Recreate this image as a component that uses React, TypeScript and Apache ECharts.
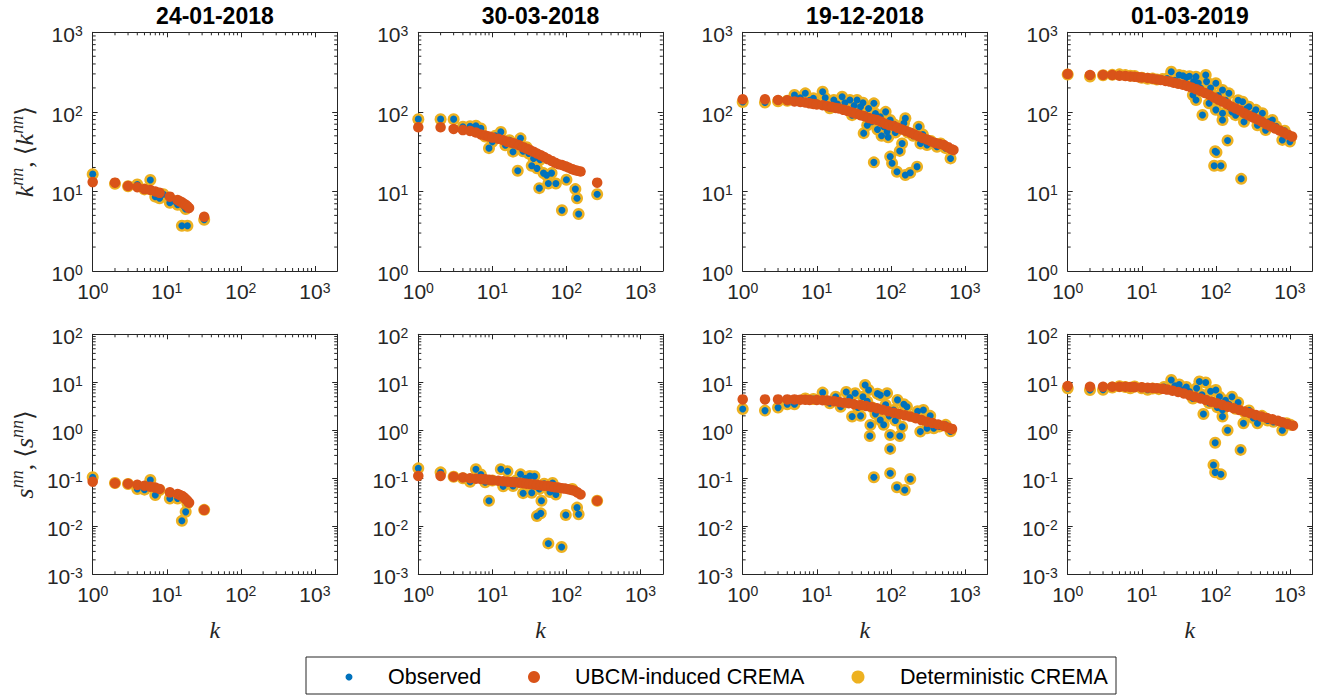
import React, { useEffect, useRef } from 'react';
import * as echarts from 'echarts';

// ---------- titles / labels ----------
const dates = ['24-01-2018', '30-03-2018', '19-12-2018', '01-03-2019'];
const legendNames = ['Observed', 'UBCM-induced CREMA', 'Deterministic CREMA'];

// ---------- data: [k, value] ----------
// 24-01-2018
const knnObsA = [[1,16.5],[2,12.5],[3,11.6],[4,12.2],[5,10.6],[6,13.9],[7,8.6],[8,8.2],[9,9.2],[11,7.2],[13,7.5],[14,6.8],[16,3.7],[17,6.5],[18,6.0],[19,3.7],[32,4.4]];
const knnUbcmA = [[1,13.1],[2,12.9],[3,11.7],[4,11.3],[5,10.7],[6,10.4],[7,10.0],[8,9.6],[11,8.6],[14,7.8],[15,7.5],[16,7.3],[17,7.0],[18,6.8],[19,6.5],[20,6.2],[32,4.8]];
const snnObsA = [[1,0.105],[2,0.08],[3,0.076],[4,0.06],[5,0.058],[6,0.092],[7,0.045],[8,0.057],[11,0.038],[14,0.038],[16,0.013],[18,0.02],[19,0.03],[32,0.022]];
const snnUbcmA = [[1,0.085],[2,0.079],[3,0.077],[4,0.073],[5,0.07],[6,0.067],[7,0.064],[8,0.06],[11,0.051],[14,0.047],[15,0.045],[16,0.043],[17,0.04],[18,0.037],[19,0.034],[20,0.031],[32,0.022]];

// 30-03-2018
const knnObsB = [[1,81],[2,81],[3,81],[4,65],[5,66],[6,67],[7,62],[8,49],[9,35],[10,42],[11,50],[13,56],[15,38],[17,44],[19,31.6],[21,40],[22,18.2],[24,46.5],[26,32],[29,36],[31,30],[34,21],[36,26],[40,19.5],[41,27],[43,11],[44,25],[49,17],[54,16],[57,12.6],[63,17],[72,12.6],[87,5.8],[100,14],[132,10.7],[139,8.2],[146,5.2],[260,9.2]];
const knnUbcmB = [[1,64],[2,64],[3,61],[4,59],[5,57.5],[6,55],[7,52],[8,50.5],[9,49],[10,47.5],[12,46],[14,44],[16,42],[18,41],[20,40],[23,38],[26,36],[29,34.5],[32,33.2],[36,31.5],[40,30],[45,28.5],[50,27],[56,25.5],[63,24.2],[70,23],[78,22],[87,21.5],[96,20.8],[106,20],[117,19.2],[128,18.6],[140,18.2],[155,17.8],[260,12.9]];
const snnObsB = [[1,0.161],[2,0.133],[3,0.108],[4,0.1],[5,0.085],[6,0.155],[7,0.12],[8,0.083],[9,0.034],[10,0.09],[13,0.155],[14,0.068],[16,0.14],[19,0.069],[21,0.09],[24,0.121],[26,0.049],[28,0.1],[32,0.112],[34,0.05],[37,0.11],[38,0.07],[40,0.0164],[43,0.06],[45,0.0186],[46,0.034],[50,0.077],[57,0.0044],[60,0.052],[65,0.08],[72,0.046],[86,0.0037],[98,0.0172],[120,0.06],[139,0.0245],[146,0.0178],[260,0.034]];
const snnUbcmB = [[1,0.112],[2,0.112],[3,0.108],[4,0.104],[5,0.1],[6,0.098],[7,0.097],[8,0.095],[9,0.093],[10,0.091],[12,0.089],[14,0.087],[16,0.085],[18,0.084],[20,0.083],[23,0.081],[26,0.079],[29,0.077],[32,0.076],[36,0.074],[40,0.073],[45,0.071],[50,0.07],[56,0.069],[63,0.067],[70,0.065],[78,0.064],[87,0.062],[96,0.061],[106,0.059],[117,0.057],[128,0.055],[140,0.051],[155,0.046],[260,0.034]];

// 19-12-2018
const knnObsC = [[1,133],[2,131],[3,136],[4,138],[5,163],[6,150],[7,171],[8,140],[9,148],[10,130],[12,179],[13,150],[15,111],[17,141],[19,125],[22,155],[24,130],[28,141],[30,91],[32,120],[35,141],[37,100],[39,116],[42,130],[43,54],[45,91],[48,68],[50,110],[55,75],[59,128],[59,23.2],[62,95],[66,60],[72,87],[75,50],[80,65],[85,100],[89,56.5],[92,48],[98,79],[98,27.4],[104,22.6],[110,70],[115,55],[121,17.7],[125,60],[132,32.3],[142,40],[150,72],[157,83],[157,16.1],[170,55],[183,17.2],[200,50],[226,20.5],[238,65],[251,40],[270,52],[308,38.4],[347,43],[380,40],[420,36.5],[470,40],[550,35],[640,26]];
const knnUbcmC = [[1,144],[2,144],[3,141],[4,140],[5,135],[6,133],[7,131],[8,128],[9,126],[10,124],[12,121],[14,118],[16,115],[18,112],[20,110],[23,106],[26,103],[30,98],[34,95],[39,91],[44,88],[50,84],[57,81],[65,79],[74,75],[84,71],[95,68],[109,66.5],[124,63],[141,60],[160,57.5],[183,54.8],[208,52],[236,49.5],[268,47],[308,45],[350,42.5],[400,40.5],[455,39.5],[520,38.4],[590,36],[650,34],[700,33.2]];
const snnObsC = [[1,2.78],[2,2.57],[3,2.97],[4,3.5],[5,3.5],[7,4.6],[9,4.5],[12,6.1],[15,3.65],[18,5.0],[21,3.1],[25,6.3],[28,4.8],[30,1.93],[33,5.9],[36,3.0],[39,2.0],[42,5.0],[45,8.8],[48,4.0],[50,6.9],[52,0.76],[53,1.29],[56,3.0],[59,0.105],[62,2.2],[66,5.8],[72,5.4],[72,1.64],[80,1.3],[85,3.4],[89,5.9],[95,2.0],[98,0.8],[98,0.41],[98,0.127],[109,2.65],[115,1.6],[121,0.065],[123,4.3],[132,0.76],[142,1.19],[150,3.5],[154,0.057],[165,3.1],[183,0.097],[205,1.93],[230,2.5],[250,0.94],[275,2.65],[308,1.1],[340,2.0],[380,1.1],[450,1.2],[550,1.3],[640,0.95]];
const snnUbcmC = [[1,4.4],[2,4.4],[3,4.4],[4,4.4],[5,4.4],[6,4.35],[7,4.33],[8,4.3],[10,4.27],[12,4.22],[14,4.18],[17,4.05],[20,3.9],[23,3.77],[27,3.65],[32,3.5],[39,3.37],[46,3.2],[55,3.05],[65,2.87],[77,2.68],[92,2.5],[109,2.33],[130,2.18],[155,2.05],[183,1.93],[218,1.78],[260,1.63],[308,1.51],[365,1.42],[435,1.32],[520,1.23],[600,1.13],[670,1.07]];

// 01-03-2019
const knnObsD = [[1,295],[2,278],[3,288],[4,292],[5,296],[6,290],[7,285],[8,283],[10,268],[12,260],[14,262],[16,255],[19,258],[22,262],[25,320],[28,250],[32,290],[36,285],[40,270],[44,280],[49,163],[50,240],[54,277],[54,141],[58,230],[62,200],[66,91.4],[70,180],[73,291],[75,240],[81,128],[85,200],[90,150],[95,21],[98,32],[100,229],[100,106],[102,31],[108,160],[117,21],[123,188],[123,96],[123,79],[135,140],[144,43.6],[150,171],[150,116],[165,100],[185,91],[200,140],[220,14.4],[230,134],[240,75],[260,110],[280,116],[320,95],[347,106],[365,68],[425,96],[470,59],[520,75],[580,79],[650,66],[790,44.4],[850,58],[1000,42.3]];
const knnUbcmD = [[1,299],[2,291],[3,291],[4,291],[5,285],[6,282],[7,279],[8,276],[9,273],[10,271],[12,266],[14,261],[16,256],[18,251],[21,245],[24,240],[27,233],[31,226],[36,219],[41,212],[47,202],[54,193],[62,183],[71,173],[82,163],[94,152],[108,142],[123,134.5],[141,126],[162,117],[185,110],[212,104],[243,96],[278,90],[318,85],[365,80],[418,75],[478,70],[548,66],[628,62],[720,58.5],[825,55],[945,51.5],[1070,48.9]];
const snnObsD = [[1,7.5],[2,6.9],[3,7.0],[4,7.8],[5,8.3],[6,8.0],[7,7.5],[8,8.2],[10,7.5],[12,7.0],[14,7.4],[17,7.2],[20,8.0],[25,11.2],[28,8.5],[32,9.0],[36,7.0],[40,8.0],[44,6.4],[49,4.6],[55,7.5],[60,10.4],[65,5.5],[68,2.19],[73,9.9],[81,3.7],[85,6.5],[93,0.19],[98,0.55],[98,0.133],[100,6.9],[105,3.0],[112,5.0],[117,0.121],[123,2.65],[123,1.93],[135,4.2],[144,1.0],[150,3.5],[165,5.0],[185,2.8],[200,3.8],[216,0.39],[236,1.4],[250,2.3],[280,2.6],[320,1.8],[365,1.4],[420,2.0],[500,1.6],[600,1.5],[790,1.0],[900,1.4],[1020,1.3]];
const snnUbcmD = [[1,8.4],[2,8.1],[3,8.1],[4,8.1],[5,8.1],[6,8.05],[7,8.0],[8,7.95],[10,7.85],[12,7.7],[14,7.6],[16,7.5],[19,7.3],[22,7.05],[26,6.7],[31,6.3],[37,5.85],[44,5.4],[52,5.0],[62,4.6],[73,4.3],[87,3.95],[103,3.65],[123,3.37],[146,3.1],[174,2.87],[207,2.65],[246,2.45],[292,2.26],[347,2.09],[412,1.93],[490,1.8],[580,1.69],[690,1.58],[790,1.47],[930,1.35],[1100,1.25]];

const obsSets = [knnObsA, knnObsB, knnObsC, knnObsD, snnObsA, snnObsB, snnObsC, snnObsD];
const ubcmSets = [knnUbcmA, knnUbcmB, knnUbcmC, knnUbcmD, snnUbcmA, snnUbcmB, snnUbcmC, snnUbcmD];

// axis ranges
const xRange = [1, 2000];
const yRanges = [[1, 1000], [0.001, 100]];

// ---------- styling / layout ----------
const BLUE = '#0072BD';
const ORANGE = '#D95319';
const YELLOW = '#EDB120';
const AX = '#262626';
const SANS = '"Liberation Sans", Arial, Helvetica, sans-serif';
const SERIF = '"Liberation Serif", "Times New Roman", "DejaVu Serif", serif';
const COL_LEFT = [92.7, 418.3, 742.7, 1067.7];
const GRID_W = 244.5;
const ROW_TOP = [32.3, 334.3];
const ROW_H = [238.7, 240];

const powLabel = (v: number) => {
  const e = Math.log10(v);
  const r = Math.round(e);
  if (Math.abs(e - r) > 1e-6) return '';
  return `{b|10}{s|${r}}`;
};
const labelRich = {
  b: { fontSize: 21, lineHeight: 16, padding: [5, 0, 0, 0], fontFamily: SANS, color: AX },
  s: { fontSize: 14, lineHeight: 10, verticalAlign: 'top', fontFamily: SANS, color: AX },
};

export default function App() {
  const ref = useRef<HTMLDivElement>(null);
  useEffect(() => {
    if (!ref.current) return;
    const chart = echarts.init(ref.current, undefined, { renderer: 'svg' });
    const grids: any[] = [];
    const xAxes: any[] = [];
    const yAxes: any[] = [];
    const series: any[] = [];
    for (let gi = 0; gi < 8; gi++) {
      const col = gi % 4;
      const row = Math.floor(gi / 4);
      grids.push({ left: COL_LEFT[col], top: ROW_TOP[row], width: GRID_W, height: ROW_H[row], outerBoundsMode: 'none', containLabel: false });
      for (const pos of ['bottom', 'top']) {
        const main = pos === 'bottom';
        xAxes.push({
          type: 'log', logBase: 10, gridIndex: gi, position: pos, min: xRange[0], max: xRange[1],
          axisLine: { show: true, onZero: false, lineStyle: { color: AX, width: 1 } },
          axisTick: { show: true, inside: true, length: 5, lineStyle: { color: AX, width: 1 } },
          axisLabel: { show: main, formatter: powLabel, rich: labelRich, margin: 10, showMaxLabel: false },
          splitLine: { show: false },
          name: main && row === 1 ? '{i|k}' : '',
          nameLocation: 'middle', nameGap: 44,
          nameTextStyle: { rich: { i: { fontFamily: SERIF, fontStyle: 'italic', fontSize: 24, color: AX } } },
        });
      }
      for (const pos of ['left', 'right']) {
        const main = pos === 'left';
        const nm = row === 0 ? 'k' : 's';
        yAxes.push({
          type: 'log', logBase: 10, gridIndex: gi, position: pos, min: yRanges[row][0], max: yRanges[row][1],
          axisLine: { show: true, onZero: false, lineStyle: { color: AX, width: 1 } },
          axisTick: { show: true, inside: true, length: 5, lineStyle: { color: AX, width: 1 } },
          axisLabel: { show: main, formatter: powLabel, rich: labelRich, margin: 10 },
          splitLine: { show: false },
          name: main && col === 0 ? `{i|${nm}}{s|nn}{n|, ⟨}{i|${nm}}{s|nn}{n|⟩}` : '',
          nameLocation: 'middle', nameGap: 57,
          nameTextStyle: {
            rich: {
              i: { fontFamily: SERIF, fontStyle: 'italic', fontSize: 26, color: AX, lineHeight: 28, padding: [6, 0, 0, 0] },
              s: { fontFamily: SERIF, fontStyle: 'italic', fontSize: 18, color: AX, lineHeight: 18, verticalAlign: 'top' },
              n: { fontFamily: SERIF, fontSize: 25, color: AX, lineHeight: 28, padding: [6, 0, 0, 0] },
            },
          },
        });
      }
      const ax = 2 * gi;
      series.push(
        { type: 'scatter', name: 'Deterministic CREMA', xAxisIndex: ax, yAxisIndex: ax, data: obsSets[gi], symbolSize: 12, itemStyle: { color: YELLOW, opacity: 1 }, silent: true },
        { type: 'scatter', name: 'Observed', xAxisIndex: ax, yAxisIndex: ax, data: obsSets[gi], symbolSize: 7, itemStyle: { color: BLUE, opacity: 1 }, silent: true },
        { type: 'scatter', name: 'UBCM-induced CREMA', xAxisIndex: ax, yAxisIndex: ax, data: ubcmSets[gi], symbolSize: 10.5, itemStyle: { color: ORANGE, opacity: 1 }, silent: true },
      );
    }
    const option: any = {
      animation: false,
      backgroundColor: '#fff',
      textStyle: { fontFamily: SANS },
      title: dates.map((d, i) => ({
        text: d, left: COL_LEFT[i] + GRID_W / 2, top: 4, textAlign: 'center', padding: 0,
        textStyle: { fontSize: 23, fontWeight: 'bold', color: '#000', fontFamily: SANS },
      })),
      grid: grids,
      xAxis: xAxes,
      yAxis: yAxes,
      series,
    };
    chart.setOption(option);

    // legend box (drawn as graphic so marker sizes match the plot markers)
    const legendY = 677;
    const legendItems = [
      { name: legendNames[0], color: BLUE, r: 3.5, cx: 349, tx: 388 },
      { name: legendNames[1], color: ORANGE, r: 6, cx: 534, tx: 575 },
      { name: legendNames[2], color: YELLOW, r: 6.5, cx: 858, tx: 900 },
    ];
    const gfx: any[] = [
      { type: 'rect', shape: { x: 306, y: 657, width: 810, height: 37 }, style: { fill: '#fff', stroke: AX, lineWidth: 1 }, silent: true, z: 0 },
    ];
    legendItems.forEach((it) => {
      gfx.push({ type: 'circle', shape: { cx: it.cx, cy: legendY, r: it.r }, style: { fill: it.color }, silent: true, z: 1 });
      gfx.push({ type: 'text', x: it.tx, y: legendY, style: { text: it.name, fill: '#000', font: `21.5px ${SANS}`, align: 'left', verticalAlign: 'middle' }, silent: true, z: 1 });
    });

    // minor ticks (MATLAB style, at 2..9 x 10^d) placed through the axes' own scales
    const tick = (x1: number, y1: number, x2: number, y2: number) => ({
      type: 'line', shape: { x1, y1, x2, y2 }, style: { stroke: AX, lineWidth: 1 }, silent: true,
    });
    for (let gi = 0; gi < 8; gi++) {
      const col = gi % 4;
      const row = Math.floor(gi / 4);
      const left = COL_LEFT[col];
      const right = left + GRID_W;
      const top = ROW_TOP[row];
      const bottom = top + ROW_H[row];
      for (let d = 0; d < 4; d++) {
        for (let m = 2; m <= 9; m++) {
          const v = m * Math.pow(10, d);
          if (v >= xRange[1]) continue;
          const px = chart.convertToPixel({ xAxisIndex: 2 * gi }, v) as number;
          gfx.push(tick(px, bottom, px, bottom - 3), tick(px, top, px, top + 3));
        }
      }
      const e0 = Math.round(Math.log10(yRanges[row][0]));
      const e1 = Math.round(Math.log10(yRanges[row][1]));
      for (let d = e0; d < e1; d++) {
        for (let m = 2; m <= 9; m++) {
          const v = m * Math.pow(10, d);
          const py = chart.convertToPixel({ yAxisIndex: 2 * gi }, v) as number;
          gfx.push(tick(left, py, left + 3, py), tick(right, py, right - 3, py));
        }
      }
    }
    chart.setOption({ graphic: gfx });
    return () => chart.dispose();
  }, []);
  return <div ref={ref} style={{ position: 'absolute', left: 0, top: 0, width: 1323, height: 696 }} />;
}
